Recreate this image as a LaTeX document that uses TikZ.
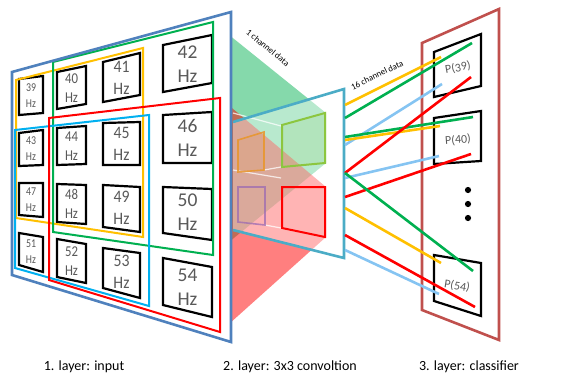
\documentclass[tikz,border=0pt]{standalone}
\usepackage{fontspec}
\setmainfont{Carlito}
\usetikzlibrary{calc}
\definecolor{layerblue}{HTML}{4F81BD}
\definecolor{rfgreen}{HTML}{00B050}
\definecolor{rforange}{HTML}{FFC000}
\definecolor{rfred}{HTML}{FF0000}
\definecolor{rfcyan}{HTML}{00B0F0}
\definecolor{convteal}{HTML}{4BACC6}
\definecolor{clsbrick}{HTML}{C0504D}
\definecolor{wireblue}{HTML}{85C4F2}
\definecolor{txtgray}{HTML}{595959}
\definecolor{sqlime}{HTML}{8CC63F}
\definecolor{sqorange}{HTML}{E8962A}
\definecolor{sqpurple}{HTML}{9C6BB3}
\tikzset{
  cellbox/.style={draw=black, line width=2.2pt, line join=miter, fill=white},
  hzA/.style={text=txtgray, align=center, inner sep=0pt, xscale=.82, font=\fontsize{12}{16}\selectfont},
  hzB/.style={text=txtgray, align=center, inner sep=0pt, xscale=.85, font=\fontsize{15}{19}\selectfont},
  hzC/.style={text=txtgray, align=center, inner sep=0pt, xscale=.9, font=\fontsize{17.5}{22}\selectfont},
  hzD/.style={text=txtgray, align=center, inner sep=0pt, font=\fontsize{19.5}{24}\selectfont},
  field/.style={line width=2pt, line join=miter},
  plane/.style={line width=2.6pt, line join=miter},
  wire/.style={line width=2.6pt},
  pbox/.style={draw=black, line width=2.2pt, line join=miter, fill=white},
  plabel/.style={text=txtgray, inner sep=0pt, font=\fontsize{12}{14}\selectfont},
  caption/.style={inner sep=0pt, font=\fontsize{14}{16}\selectfont},
  tinylabel/.style={inner sep=0pt, font=\fontsize{8.8}{10}\selectfont},
}
% one frequency cell: name, four corners (TL, TR, BR, BL), number, text style
\newcommand\hzcell[7]{%
  \draw[cellbox] #2 -- #3 -- #4 -- #5 -- cycle;
  \node[#7] (#1) at ($0.25*#2+0.25*#3+0.25*#4+0.25*#5$) {#6\\Hz};
}
\begin{document}
\begin{tikzpicture}[x=1pt, y=-1pt]
\useasboundingbox (0,0) rectangle (567,378);

% projections from the receptive fields onto the convolution plane
\fill[rfgreen, opacity=.48] (213,22) -- (326,113) -- (326,163) -- (213,255) -- cycle;
\fill[rfred, opacity=.5] (220,98) -- (326,187) -- (326,237) -- (220,332) -- cycle;

% layer 1: input plane
\fill[white] (12,72) -- (231,12) -- (231,342) -- (12,275) -- cycle;

\hzcell{c39}{(19,79)}{(43,76)}{(43,113)}{(19,115)}{39}{hzA}
\hzcell{c40}{(57,72)}{(86,66)}{(86,104)}{(57,109)}{40}{hzB}
\hzcell{c41}{(103,62)}{(140,53)}{(140,95)}{(103,102)}{41}{hzC}
\hzcell{c42}{(163,45)}{(212,35)}{(212,83)}{(163,92)}{42}{hzD}
\hzcell{c43}{(19,133)}{(43,130)}{(43,165)}{(19,166)}{43}{hzA}
\hzcell{c44}{(57,128)}{(86,126)}{(86,164)}{(57,165)}{44}{hzB}
\hzcell{c45}{(103,123)}{(140,122)}{(140,165)}{(103,165)}{45}{hzC}
\hzcell{c46}{(163,115)}{(212,112)}{(212,163)}{(163,163)}{46}{hzD}
\hzcell{c47}{(19,183)}{(43,183)}{(43,217)}{(19,215)}{47}{hzA}
\hzcell{c48}{(57,184)}{(86,185)}{(86,224)}{(57,222)}{48}{hzB}
\hzcell{c49}{(103,185)}{(140,187)}{(140,232)}{(103,227)}{49}{hzC}
\hzcell{c50}{(163,187)}{(212,189)}{(212,240)}{(163,233)}{50}{hzD}
\hzcell{c51}{(19,233)}{(43,237)}{(43,272)}{(19,265)}{51}{hzA}
\hzcell{c52}{(57,239)}{(86,244)}{(86,283)}{(57,277)}{52}{hzB}
\hzcell{c53}{(103,248)}{(140,253)}{(140,298)}{(103,288)}{53}{hzC}
\hzcell{c54}{(163,258)}{(212,267)}{(212,317)}{(163,305)}{54}{hzD}

% 3x3 receptive fields
\draw[field, rforange] (16,80) -- (143,48) -- (143,237) -- (16,218) -- cycle;
\draw[field, rfgreen] (53,62) -- (213,22) -- (213,255) -- (53,232) -- cycle;
\draw[field, rfcyan] (15,130) -- (149,115) -- (149,306) -- (15,268) -- cycle;
\draw[field, rfred] (49,118) -- (220,98) -- (220,332) -- (49,280) -- cycle;
\draw[plane, layerblue] (12,72) -- (231,12) -- (231,342) -- (12,275) -- cycle;

% layer 2: convolution plane
\fill[white, opacity=.42] (233,122) -- (344,89) -- (344,258) -- (233,230) -- cycle;
\draw[white, opacity=.75, line width=1.2pt] (233,113) -- (281,126) (264,170) -- (281,167)
  (233,170) -- (281,178) (265,225) -- (281,228);
\draw[sqorange, opacity=.85, line width=1.6pt, fill=sqorange, fill opacity=.12]
  (238,140) -- (264,132) -- (264,170) -- (238,172) -- cycle;
\draw[sqpurple, opacity=.75, line width=1.6pt]
  (238,187) -- (265,187) -- (265,225) -- (238,222) -- cycle;
\draw[sqlime, line width=2pt, fill=sqlime, fill opacity=.12]
  (282,125) -- (325,113) -- (325,163) -- (282,167) -- cycle;
\draw[rfred, line width=2pt]
  (282,187) -- (325,187) -- (325,237) -- (282,228) -- cycle;
\draw[plane, convteal] (233,122) -- (344,89) -- (344,258) -- (233,230);

\node[tinylabel, rotate=-39] (lbl1) at (268,48) {1 channel data};
\node[tinylabel, rotate=26] (lbl16) at (377,75) {16 channel data};

% layer 3: classifier plane
\draw[plane, clsbrick, fill=white] (422,43) -- (499,9) -- (499,340) -- (422,310) -- cycle;
\draw[pbox] (434,52) -- (481,34) -- (481,86) -- (434,97) -- cycle;
\draw[pbox] (434,118) -- (481,111) -- (481,161) -- (434,164) -- cycle;
\draw[pbox] (434,255) -- (481,263) -- (481,316) -- (434,301) -- cycle;
\node[plabel, rotate=10] (p39) at (458,68) {P(39)};
\node[plabel, rotate=4] (p40) at (458,140) {P(40)};
\node[plabel, rotate=-9] (p54) at (457,286) {P(54)};
\fill[black] (468,190) circle (3.1) (468,204) circle (3.1) (468,218) circle (3.1);

% wire end points on the convolution plane and in the classifier cells
\coordinate (s1) at (345,105);  \coordinate (t1) at (441,57);
\coordinate (s2) at (345,118);  \coordinate (t2) at (472,43);
\coordinate (s3) at (345,145);  \coordinate (t3) at (442,84);
\coordinate (s4) at (345,137);  \coordinate (t4) at (473,117);
\coordinate (s5) at (345,140);  \coordinate (t5) at (440,126);
\coordinate (s6) at (345,173);  \coordinate (t6) at (471,77);
\coordinate (s7) at (345,178);  \coordinate (t7) at (439,156);
\coordinate (s8) at (345,197);  \coordinate (t8) at (471,154);
\coordinate (s9) at (345,173);  \coordinate (t9) at (473,271);
\coordinate (s10) at (345,208); \coordinate (t10) at (441,263);
\coordinate (s11) at (345,235); \coordinate (t11) at (475,307);
\coordinate (s12) at (345,250); \coordinate (t12) at (439,294);

\draw[wire, rforange] (s1) -- (t1);
\draw[wire, rfgreen] (s2) -- (t2);
\draw[wire, wireblue] (s3) -- (t3);
\draw[wire, rfgreen] (s4) -- (t4);
\draw[wire, rforange] (s5) -- (t5);
\draw[wire, wireblue] (s7) -- (t7);
\draw[wire, rfred] (s6) -- (t6);
\draw[wire, rfred] (s8) -- (t8);
\draw[wire, rfgreen] (s9) -- (t9);
\draw[wire, rforange] (s10) -- (t10);
\draw[wire, rfred] (s11) -- (t11);
\draw[wire, wireblue] (s12) -- (t12);

% captions
\node[caption] (cap1) at (84,367) {1. layer: input};
\node[caption] (cap2) at (290,367) {2. layer: 3x3 convoltion};
\node[caption] (cap3) at (469,367) {3. layer: classifier};
\end{tikzpicture}
\end{document}
